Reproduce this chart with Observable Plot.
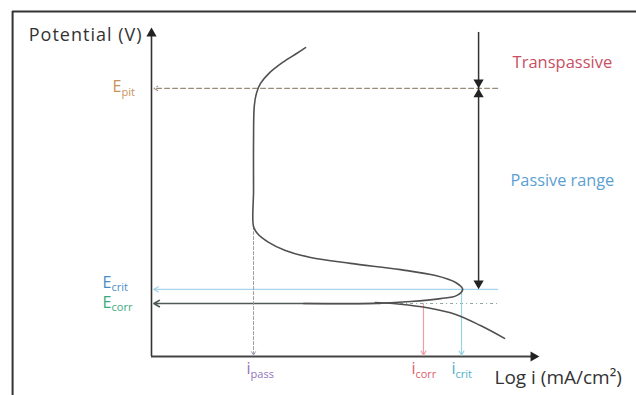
<!DOCTYPE html>
<html><head><meta charset="utf-8">
<script src="https://cdn.jsdelivr.net/npm/d3@7"></script>
<script src="https://cdn.jsdelivr.net/npm/@observablehq/plot@0.6"></script>
<style>html,body{margin:0;padding:0;background:#fff;overflow:hidden}</style>
</head><body><div id="chart"></div>
<script>
// Anodic polarization curve (x = log i, y = potential, schematic units)
const anodicLogI = [3.97,3.74,3.38,3.02,2.81,2.71,2.65,2.63,2.63,2.63,2.73,3.02,3.45,4.10,5.13,6.42,7.32,7.84,8.02,7.86,7.45,6.68,5.64,3.92];
const anodicE    = [9.39,9.21,8.94,8.60,8.30,8.02,7.63,6.57,5.05,3.95,3.74,3.47,3.22,3.01,2.83,2.64,2.46,2.25,2.04,1.85,1.76,1.67,1.61,1.61];
// Cathodic branch
const cathodicLogI = [5.77,6.42,7.11,7.84,8.48,9.10];
const cathodicE    = [1.64,1.59,1.48,1.28,0.94,0.55];
// Characteristic potentials
const potentialNames  = ["pit","crit","corr"];
const potentialValues = [8.15,2.04,1.61];
// Characteristic currents and the potential each is read from
const currentNames  = ["pass","corr","crit"];
const currentValues = [2.63,7.01,7.99];
const currentFrom   = [3.95,1.61,2.04];
const regionLabels = ["Transpassive","Passive range"];
const axisLabels   = ["Potential (V)","Log i (mA/cm²)"];

// ---- layout constants ----
const WIDTH = 636, HEIGHT = 395, ML = 151, MR = 97, MT = 27, MB = 39;
const X_MAX = 10, Y_MAX = 10;
const PXX = (WIDTH - ML - MR) / X_MAX, PXY = (HEIGHT - MT - MB) / Y_MAX;
const LINE_END = 8.92, RANGE_X = 8.43, RANGE_TOP = 9.85;
const ECORR_SOLID_END = 5.9, ECORR_DOT_START = 6.42;
const FRAME_X = -3.58, FRAME_TOP = 10.49, FRAME_BOTTOM = -1.4, FRAME_RIGHT = 12.7;
const LABEL_X = 10.59, TRANS_Y = 8.94, PASSIVE_Y = 5.35;
const I_LABEL_Y = -0.37, LOGI_Y = -0.64, POT_LABEL_Y = 9.76, LOGI_X = 8.84;

const anodic = anodicLogI.map((x,i)=>({x, y: anodicE[i]}));
const cathodic = cathodicLogI.map((x,i)=>({x, y: cathodicE[i]}));
const pots = potentialNames.map((n,i)=>({name:n, E: potentialValues[i]}));
const curs = currentNames.map((n,i)=>({name:n, x: currentValues[i], top: currentFrom[i]}));
const P = Object.fromEntries(pots.map(d=>[d.name,d]));
const C = Object.fromEntries(curs.map(d=>[d.name,d]));

const potColor = {pit:"#c8925a", crit:"#4a8cc4", corr:"#3aac7c"};
const curColor = {pass:"#9274c0", corr:"#e0606a", crit:"#4fb0c8"};
// pixel offsets of the labels (right edge of the main letter / vertical centre shift)
const potDxPx = {pit:-30, crit:-40, corr:-40};
const potDyPx = {pit:-1, crit:-7, corr:-1};
const curDxPx = {pass:-3, corr:-8, crit:-6};
const potLabelX = d => potDxPx[d.name] / PXX;
const potLabelY = d => d.E - potDyPx[d.name] / PXY;
const curLabelX = d => d.x + curDxPx[d.name] / PXX;

const tri = (data, opts) => Plot.dot(data, {symbol:"triangle", r:3.8, fill:"#222", stroke:"none", ...opts});

const marks = [
  // outer frame
  Plot.ruleX([FRAME_X], {y1: FRAME_BOTTOM, y2: FRAME_TOP, stroke:"#333", strokeWidth:2}),
  Plot.ruleY([FRAME_TOP], {x1: FRAME_X, x2: FRAME_RIGHT, stroke:"#333", strokeWidth:2}),
  // axes
  Plot.ruleX([0], {y1:0, y2:Y_MAX-0.2, stroke:"#333", strokeWidth:1.6}),
  Plot.ruleY([0], {x1:0, x2:X_MAX-0.2, stroke:"#444", strokeWidth:1.8}),
  tri([{x:0,y:Y_MAX}], {x:"x", y:"y", dy:6}),
  tri([{x:X_MAX,y:0}], {x:"x", y:"y", rotate:90, dx:-6}),
  // Epit dashed
  Plot.arrow([P.pit], {x1:()=>LINE_END, x2:()=>0.06, y1:"E", y2:"E", stroke:"#9a8a78", strokeWidth:1.1, strokeDasharray:"5,3", headLength:6, headAngle:60}),
  // Ecrit line
  Plot.arrow([P.crit], {x1:()=>LINE_END, x2:()=>0.06, y1:"E", y2:"E", stroke:"#a8d4ee", strokeWidth:1.3, headLength:6, headAngle:60}),
  // Ecorr line
  Plot.arrow([P.corr], {x1:()=>ECORR_SOLID_END, x2:()=>0.06, y1:"E", y2:"E", stroke:"#4e5a56", strokeWidth:1.6, headLength:6, headAngle:60}),
  Plot.ruleY([P.corr], {y:"E", x1:ECORR_DOT_START, x2:LINE_END, stroke:"#8aa898", strokeWidth:1.1, strokeDasharray:"3,3,1,3"}),
  // current drop lines
  Plot.arrow([C.pass], {x1:"x", x2:"x", y1:"top", y2:()=>0.04, stroke:"#a098a8", strokeWidth:1, strokeDasharray:"3,2", headLength:6, headAngle:60}),
  Plot.arrow([C.corr], {x1:"x", x2:"x", y1:"top", y2:()=>0.04, stroke:"#eaa0a6", strokeWidth:1.2, headLength:6, headAngle:60}),
  Plot.arrow([C.crit], {x1:"x", x2:"x", y1:"top", y2:()=>0.04, stroke:"#96d4e2", strokeWidth:1.2, headLength:6, headAngle:60}),
  // curves
  Plot.line(anodic, {x:"x", y:"y", curve:"catmull-rom", stroke:"#505050", strokeWidth:1.6}),
  Plot.line(cathodic, {x:"x", y:"y", curve:"catmull-rom", stroke:"#505050", strokeWidth:1.6}),
  // passive / transpassive range arrows
  Plot.ruleX([RANGE_X], {y1:P.crit.E + 0.2, y2:RANGE_TOP, stroke:"#333", strokeWidth:1.5}),
  tri([P.pit], {x:()=>RANGE_X, y:"E", rotate:180, dy:-6}),
  tri([P.pit], {x:()=>RANGE_X, y:"E", dy:6}),
  tri([P.crit], {x:()=>RANGE_X, y:"E", rotate:180, dy:-6}),
  // region labels
  Plot.text([regionLabels[0]], {x:()=>LABEL_X, y:()=>TRANS_Y, text:d=>d, fill:"#c94f63", fontSize:16.5}),
  Plot.text([regionLabels[1]], {x:()=>LABEL_X, y:()=>PASSIVE_Y, text:d=>d, fill:"#5b9fd3", fontSize:16.3}),
  // axis labels
  Plot.text([axisLabels[0]], {x:()=>0, y:()=>POT_LABEL_Y, text:d=>d, dx:-9, textAnchor:"end", fill:"#333", fontSize:18, className:"pot-title"}),
  Plot.text([axisLabels[1]], {x:()=>LOGI_X, y:()=>LOGI_Y, text:d=>d, textAnchor:"start", fill:"#333", fontSize:19}),
  // potential labels E_x
  Plot.text(pots, {x:potLabelX, y:potLabelY, text:()=> "E", textAnchor:"end", fill:d=>potColor[d.name], fontSize:16}),
  Plot.text(pots, {x:potLabelX, y:potLabelY, text:"name", dy:5, textAnchor:"start", fill:d=>potColor[d.name], fontSize:11}),
  // current labels i_x
  Plot.text(curs, {x:curLabelX, y:()=>I_LABEL_Y, text:()=> "i", textAnchor:"end", fill:d=>curColor[d.name], fontSize:16}),
  Plot.text(curs, {x:curLabelX, y:()=>I_LABEL_Y, text:"name", dy:6, textAnchor:"start", fill:d=>curColor[d.name], fontSize:11}),
];

const chart = Plot.plot({
  width:WIDTH, height:HEIGHT,
  marginLeft:ML, marginRight:MR, marginTop:MT, marginBottom:MB,
  x:{domain:[0,X_MAX], axis:null},
  y:{domain:[0,Y_MAX], axis:null},
  style:{fontFamily:"'Open Sans', sans-serif", background:"white", overflow:"visible"},
  marks
});
// wider tracking for the potential axis title, as in the reference
d3.select(chart).selectAll("text").filter(function(){ return this.textContent === axisLabels[0]; })
  .attr("letter-spacing", "1px");
document.getElementById("chart").append(chart);
</script></body></html>
